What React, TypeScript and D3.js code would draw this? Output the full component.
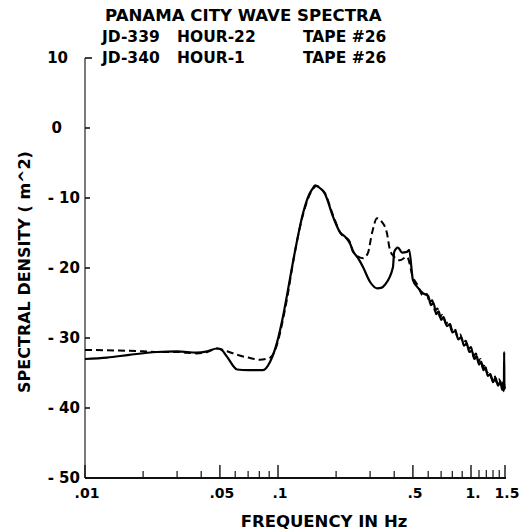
import React from 'react';
import * as d3 from 'd3';

// header text
const chartTitle = 'PANAMA CITY WAVE SPECTRA';
const runRows = [
  ['JD-339', 'HOUR-22', 'TAPE #26'],
  ['JD-340', 'HOUR-1', 'TAPE #26'],
];

// axes
const yTickValues = [10, 0, -10, -20, -30, -40, -50];
const xMajorValues = [0.01, 0.05, 0.1, 0.5, 1, 1.5];
const xMajorLabels = ['.01', '.05', '.1', '.5', '1.', '1.5'];
const xExtraMinor = [1.1, 1.2, 1.3, 1.4];

// [frequency Hz, spectral density dB]
const solidSeries: [number, number][] = [
  [0.01, -33.0], [0.013, -32.8], [0.017, -32.4], [0.0236, -32.0], [0.03, -31.9],
  [0.038, -32.1], [0.043, -31.9], [0.0483, -31.5], [0.051, -31.7], [0.0545, -32.7],
  [0.0614, -34.5], [0.07, -34.6], [0.0836, -34.6], [0.091, -33.4], [0.0987, -30.7],
  [0.106, -27.0], [0.112, -23.5], [0.12, -18.9], [0.135, -12.1], [0.145, -9.5],
  [0.15, -8.8], [0.156, -8.2], [0.162, -8.4], [0.175, -9.4], [0.193, -12.7],
  [0.2096, -14.9], [0.222, -15.5], [0.236, -16.5], [0.245, -17.6], [0.26, -18.6],
  [0.276, -19.9], [0.3, -22.0], [0.326, -22.9], [0.345, -22.8], [0.358, -22.4],
  [0.394, -19.9], [0.4, -17.7], [0.418, -17.1], [0.44, -17.8], [0.466, -17.7],
  [0.478, -17.4], [0.5, -21.7], [0.53, -22.8], [0.563, -23.6], [0.6, -24.0],
  [0.62, -25.3], [0.64, -25.0], [0.66, -26.6], [0.68, -26.2], [0.7, -27.4],
  [0.72, -27.0], [0.75, -28.3], [0.78, -28.0], [0.8, -29.2], [0.83, -29.0],
  [0.86, -30.2], [0.89, -29.9], [0.92, -31.1], [0.95, -30.8], [0.98, -32.0],
  [1.01, -31.8], [1.04, -33.0], [1.07, -32.6], [1.1, -33.8], [1.13, -33.4],
  [1.16, -34.6], [1.19, -34.2], [1.22, -35.4], [1.26, -35.2], [1.3, -36.3],
  [1.34, -35.7], [1.38, -36.8], [1.42, -36.2], [1.45, -37.4], [1.47, -36.6],
  [1.48, -37.6], [1.485, -32.0], [1.49, -37.3], [1.5, -36.9],
];

const dashedSeries: [number, number][] = [
  [0.01, -31.7], [0.015, -31.8], [0.02, -31.9], [0.0236, -32.0], [0.03, -32.0],
  [0.038, -32.2], [0.043, -32.0], [0.0483, -31.5], [0.0545, -31.9], [0.0614, -32.4],
  [0.07, -32.8], [0.0806, -33.1], [0.091, -32.8], [0.0987, -31.0], [0.106, -27.4],
  [0.112, -24.0], [0.12, -19.0], [0.135, -12.3], [0.15, -8.9], [0.159, -8.3],
  [0.165, -8.6], [0.175, -9.3], [0.193, -12.5], [0.2096, -14.9], [0.236, -16.3],
  [0.245, -17.7], [0.276, -18.6], [0.292, -17.9], [0.307, -15.0], [0.326, -12.9],
  [0.345, -13.4], [0.366, -14.9], [0.38, -17.4], [0.4, -18.4], [0.428, -18.9],
  [0.466, -18.4], [0.5, -21.3], [0.53, -22.5], [0.563, -23.9], [0.59, -23.7],
  [0.61, -24.9], [0.63, -24.6], [0.65, -26.1], [0.67, -25.8], [0.69, -27.0],
  [0.71, -26.7], [0.74, -27.9], [0.77, -27.7], [0.79, -28.8], [0.82, -28.5],
  [0.85, -29.8], [0.88, -29.5], [0.91, -30.7], [0.94, -30.4], [0.97, -31.6],
  [1.0, -31.3], [1.03, -32.6], [1.06, -32.2], [1.09, -33.4], [1.12, -33.0],
  [1.15, -34.2], [1.18, -33.8], [1.21, -35.0], [1.24, -34.7], [1.28, -35.8],
  [1.32, -35.3], [1.36, -36.4], [1.4, -35.9], [1.44, -37.0], [1.47, -36.3],
  [1.5, -37.2],
];

const W = 520;
const H = 532;
const FONT = '"DejaVu Sans", "Liberation Sans", sans-serif';

export default function App() {
  const x = d3.scaleLog().domain([0.01, 1.5]).range([85, 505]);
  const y = d3.scaleLinear().domain([-50, 10]).range([478, 58]);

  const line = d3
    .line<[number, number]>()
    .x((d) => x(d[0]))
    .y((d) => y(d[1]))
    .curve(d3.curveMonotoneX);

  const minorTicks = x
    .ticks()
    .concat(xExtraMinor)
    .filter((v) => !xMajorValues.some((m) => Math.abs(m - v) < 1e-9));

  const labelX = (v: number) => (v < 0 ? 80 : v === 0 ? 62 : 68);
  const fmtY = (v: number) => (v < 0 ? `- ${Math.abs(v)}` : `${v}`);

  const colX = [102, 177, 303];

  return (
    <svg
      width={W}
      height={H}
      style={{ position: 'absolute', left: 0, top: 0, background: '#fff' }}
      fontFamily={FONT}
      fontWeight="bold"
    >
      <rect width={W} height={H} fill="#fff" />

      {/* header */}
      <text x={105} y={21} fontSize={16.6}>{chartTitle}</text>
      {runRows.map((row, i) =>
        row.map((t, j) => (
          <text key={`${i}-${j}`} x={colX[j]} y={42 + i * 21} fontSize={15.5}>
            {t}
          </text>
        ))
      )}

      {/* y axis */}
      <line x1={85} x2={85} y1={y(10)} y2={y(-50)} stroke="#222" strokeWidth={1.2} />
      {yTickValues.map((v) => (
        <g key={v}>
          <line x1={85} x2={v === 10 ? 92 : 90} y1={y(v)} y2={y(v)} stroke="#111" strokeWidth={1.6} />
          <text x={labelX(v)} y={y(v) + 5} fontSize={15} textAnchor="end">
            {fmtY(v)}
          </text>
        </g>
      ))}
      <text
        transform={`translate(30,272) rotate(-90)`}
        fontSize={16}
        textAnchor="middle"
      >
        SPECTRAL DENSITY (   m^2)
      </text>

      {/* x axis */}
      <line x1={85} x2={x(1.5) + 1} y1={478} y2={478} stroke="#111" strokeWidth={2} />
      {minorTicks.map((v) => (
        <line key={`m${v}`} x1={x(v)} x2={x(v)} y1={478} y2={v > 1 ? 470 : 471} stroke="#111" strokeWidth={1.2} />
      ))}
      {xMajorValues.map((v, i) => (
        <g key={`M${v}`}>
          <line x1={x(v)} x2={x(v)} y1={478} y2={465} stroke="#111" strokeWidth={1.4} />
          <text x={x(v) + 2} y={498} fontSize={14} textAnchor="middle">
            {xMajorLabels[i]}
          </text>
        </g>
      ))}
      <text x={324} y={527} fontSize={16.5} textAnchor="middle">
        FREQUENCY IN Hz
      </text>

      {/* spectra */}
      <path d={line(dashedSeries) || ''} fill="none" stroke="#000" strokeWidth={2} strokeDasharray="7,4" />
      <path d={line(solidSeries) || ''} fill="none" stroke="#000" strokeWidth={2.2} strokeLinejoin="round" />
    </svg>
  );
}
